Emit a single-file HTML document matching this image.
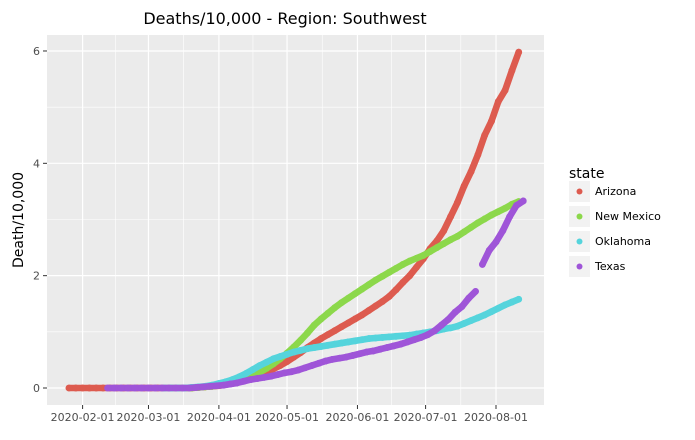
<!DOCTYPE html>
<html><head><meta charset="utf-8"><style>
body{margin:0;background:#fff;}
text{font-family:"DejaVu Sans","Liberation Sans",sans-serif;}
</style></head><body>
<svg id="chart" width="695" height="435" xmlns="http://www.w3.org/2000/svg">
<text x="285" y="24" text-anchor="middle" font-size="16" fill="#000">Deaths/10,000 - Region: Southwest</text>
<rect x="47" y="35" width="497" height="370" fill="#ebebeb"/>
<g id="grid"></g><g id="marks"></g><g id="axes"></g>
<text transform="translate(23,220) rotate(-90)" text-anchor="middle" font-size="14" fill="#000">Death/10,000</text>
<g>
<text x="569" y="178" font-size="14" fill="#000">state</text>
<g id="legend"></g>
</g>
</svg>
<script>
const states=["Arizona","New Mexico","Oklahoma","Texas"];
const colors=["#dd5b4f","#8cd84b","#55d4dc","#9f55d8"];
const startDays=[-6,39,36,11];
const stepDays=3;
const arizona=[0,0,0,0,0,0,0,0,0,0,0,0,0,0,0,0,0,0,0,0.01,0.02,0.03,0.04,0.06,0.08,0.11,0.14,0.18,0.23,0.28,0.34,0.4,0.47,0.55,0.63,0.72,0.8,0.88,0.95,1.02,1.09,1.16,1.23,1.3,1.38,1.46,1.54,1.63,1.75,1.88,2.0,2.15,2.3,2.48,2.62,2.8,3.05,3.3,3.6,3.85,4.15,4.5,4.75,5.1,5.3,5.65,5.98];
const newMexico=[0,0,0,0,0.01,0.02,0.03,0.05,0.07,0.1,0.13,0.17,0.22,0.28,0.35,0.43,0.52,0.62,0.73,0.85,0.98,1.12,1.23,1.33,1.43,1.52,1.6,1.68,1.76,1.84,1.92,1.99,2.06,2.13,2.2,2.26,2.31,2.36,2.43,2.5,2.57,2.64,2.7,2.78,2.86,2.94,3.01,3.08,3.14,3.2,3.27,3.32];
const oklahoma=[0,0,0,0,0.01,0.02,0.03,0.05,0.08,0.11,0.15,0.2,0.26,0.33,0.4,0.46,0.52,0.56,0.6,0.64,0.67,0.7,0.72,0.74,0.76,0.78,0.8,0.82,0.84,0.86,0.88,0.89,0.9,0.91,0.92,0.93,0.94,0.96,0.98,1.0,1.02,1.05,1.07,1.1,1.15,1.2,1.25,1.3,1.36,1.42,1.48,1.53,1.58];
const texas=[0,0,0,0,0,0,0,0,0,0,0,0,0,0.01,0.02,0.03,0.04,0.05,0.07,0.09,0.12,0.15,0.17,0.19,0.21,0.24,0.27,0.29,0.32,0.36,0.4,0.44,0.48,0.51,0.53,0.55,0.58,0.61,0.64,0.66,0.69,0.72,0.75,0.78,0.82,0.86,0.9,0.95,1.02,1.12,1.22,1.35,1.45,1.6,1.72,2.2,2.45,2.6,2.8,3.05,3.25,3.33];
const series=[arizona,newMexico,oklahoma,texas];
const xTickLabels=["2020-02-01","2020-03-01","2020-04-01","2020-05-01","2020-06-01","2020-07-01","2020-08-01"];
const xTickDays=[0,29,60,90,121,151,182];
const yTicks=[0,2,4,6];
const NS="http://www.w3.org/2000/svg";
function xs(d){return 82.6+d*2.2715;}
function ys(v){return 388-v*56.17;}
function mk(tag,attrs,parent){const e=document.createElementNS(NS,tag);for(const k in attrs)e.setAttribute(k,attrs[k]);parent.appendChild(e);return e;}
const grid=document.getElementById('grid'),axes=document.getElementById('axes'),marks=document.getElementById('marks'),legend=document.getElementById('legend');
[1,3,5].forEach(v=>{const l=mk('line',{x1:47,x2:544,y1:ys(v),y2:ys(v),stroke:'#fff','stroke-width':0.6},grid);

});
for(let i=0;i<xTickDays.length-1;i++){const d=(xTickDays[i]+xTickDays[i+1])/2;const l=mk('line',{x1:xs(d),x2:xs(d),y1:35,y2:405,stroke:'#fff','stroke-width':0.6},grid);

}
yTicks.forEach(v=>{const l=mk('line',{x1:47,x2:544,y1:ys(v),y2:ys(v),stroke:'#fff','stroke-width':1.2},grid);


mk('line',{x1:43,x2:47,y1:ys(v),y2:ys(v),stroke:'#333'},axes);
const t=mk('text',{x:40,y:ys(v)+4,'text-anchor':'end','font-size':11,fill:'#4d4d4d'},axes);t.textContent=v;

});
xTickDays.forEach((d,i)=>{const l=mk('line',{x1:xs(d),x2:xs(d),y1:35,y2:405,stroke:'#fff','stroke-width':1.2},grid);


mk('line',{x1:xs(d),x2:xs(d),y1:405,y2:409,stroke:'#333'},axes);
const t=mk('text',{x:xs(d),y:421,'text-anchor':'middle','font-size':11,fill:'#4d4d4d'},axes);t.textContent=xTickLabels[i];

});
series.forEach((arr,si)=>{const g=mk('g',{},marks);


for(let i=1;i<arr.length;i++){
if(Math.abs(arr[i]-arr[i-1])>0.42)continue;
const seg=mk('line',{x1:xs(startDays[si]+(i-1)*stepDays),y1:ys(arr[i-1]),x2:xs(startDays[si]+i*stepDays),y2:ys(arr[i]),stroke:colors[si],'stroke-width':6.6,'stroke-linecap':'round'},g);

}
arr.forEach((v,i)=>{const c=mk('circle',{cx:xs(startDays[si]+i*stepDays),cy:ys(v),r:3.4,fill:colors[si]},g);

});});
states.forEach((s,i)=>{const y=181+i*25;const g=mk('g',{},legend);


mk('rect',{x:569,y:y,width:21,height:21,fill:'#f2f2f2'},g);
mk('circle',{cx:579.5,cy:y+10.5,r:3,fill:colors[i]},g);
const t=mk('text',{x:595,y:y+14,'font-size':11,fill:'#000'},g);t.textContent=s;});
</script>
</body></html>
